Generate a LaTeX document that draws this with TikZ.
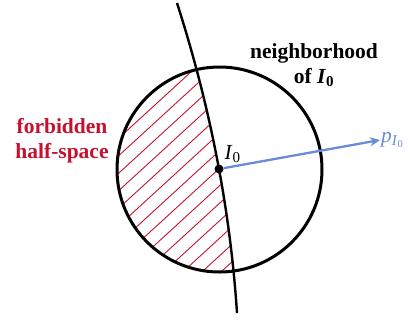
\documentclass[tikz,border=0pt]{standalone}
\usepackage{fontspec}
\setmainfont{Liberation Serif}
\usepackage{xcolor}
\usetikzlibrary{arrows.meta,positioning}
\definecolor{forbid}{HTML}{C8102E}
\definecolor{grad}{HTML}{6A8BD8}
\tikzset{
  nbhd/.style={circle,draw=black,line width=3pt,minimum size=205pt,inner sep=0pt},
  vdot/.style={circle,fill=black,minimum size=9pt,inner sep=0pt},
  vcurve/.style={line width=2.4pt,draw=black},
  vhatch/.style={line width=0.9pt,draw=forbid},
  varr/.style={-{Stealth[length=10pt,width=9pt]},line width=2.3pt,draw=grad},
  vlabel/.style={font=\fontsize{21.5}{25}\selectfont\bfseries,align=center,inner sep=0pt}
}
\begin{document}
\begin{tikzpicture}[x=1pt,y=-1pt]
  \useasboundingbox (0,0) rectangle (410,325);
  % hatched half of the neighbourhood
  \begin{scope}
    \clip (219.5,169.5) circle (102.5pt);
    \clip (177,3) .. controls (210.2,106.3) and (230.2,209.7) .. (237,313) -- (0,313) -- (0,3) -- cycle;
    \foreach \k in {-12,...,16}
      \draw[vhatch] (0,169.5+17.5*\k+95) -- (300,169.5+17.5*\k-180);
  \end{scope}
  \node[nbhd] (nb) at (219.5,169.5) {};
  \draw[vcurve] (177,3) .. controls (210.2,106.3) and (230.2,209.7) .. (237,313);
  \node[vdot] (i0) at (219,169) {};
  \node[font=\fontsize{21.5}{25}\selectfont,inner sep=1pt,above right=2pt and 1pt of i0] (i0lab) {\textit{I}\textsubscript{0}};
  \node[font=\fontsize{21.5}{25}\selectfont,text=grad,inner sep=1pt,anchor=west] (pgrad) at (380,140)
     {\textit{p}\textsubscript{\textit{I}\textsubscript{0}}};
  \draw[varr] (i0) -- (pgrad.west);
  \node[vlabel] (nblab) at (314,65) {neighborhood\\of \textit{I}\textsubscript{0}};
  \node[vlabel,text=forbid] (fblab) at (62,141) {forbidden\\half-space};
\end{tikzpicture}
\end{document}
